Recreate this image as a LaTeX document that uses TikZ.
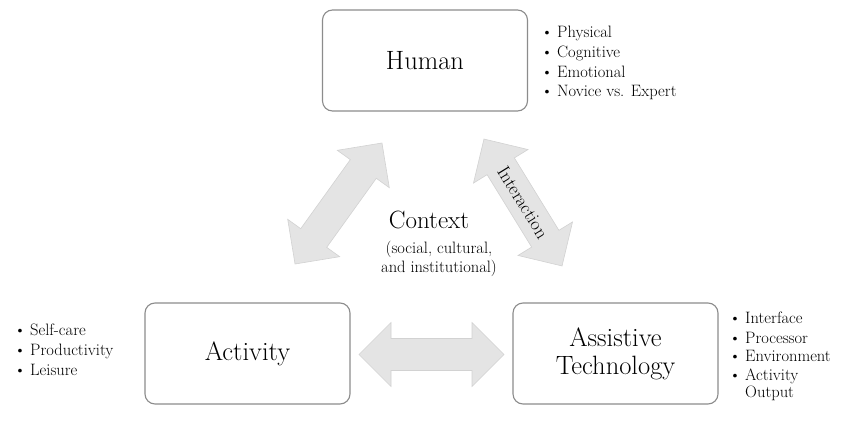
\documentclass[tikz,border=0pt]{standalone}
\definecolor{boxgray}{HTML}{8C8C8C}
\definecolor{arrowfill}{HTML}{E4E4E4}
\definecolor{arrowedge}{HTML}{D2D2D2}
\newcommand\blt[1]{\makebox[16pt][l]{\textbullet}#1}
\begin{document}
\begin{tikzpicture}[x=1pt,y=-1pt,
  box/.style={draw=boxgray, line width=1.1pt, rounded corners=10pt,
    minimum width=205pt, minimum height=101pt, inner sep=0pt,
    font=\fontsize{26.5}{29}\selectfont, align=center},
  bul/.style={anchor=base west, inner sep=0pt, font=\fontsize{16.5}{18}\selectfont},
  blk/.style={fill=arrowfill, draw=arrowedge, line width=0.6pt, line join=miter},
  pics/dblarrow/.style={code={
    \path[blk] ({-#1/2},0) -- ({-#1/2+32},32) -- ({-#1/2+32},16)
      -- ({#1/2-32},16) -- ({#1/2-32},32) -- ({#1/2},0)
      -- ({#1/2-32},-32) -- ({#1/2-32},-16) -- ({-#1/2+32},-16)
      -- ({-#1/2+32},-32) -- cycle;}}
]
\fill[white] (0,0) rectangle (850,422);
\useasboundingbox (0,0) rectangle (850,422);

% boxes
\node[box] (human) at (425,60.5) {Human};
\node[box] (activity) at (247.5,353.5) {Activity};
\node[box] (at) at (615.5,353.5) {Assistive\\[-1pt]Technology};

% block arrows
\coordinate (lcen) at (338.5,203.5);
\coordinate (rcen) at (523,202.5);
\coordinate (hcen) at (431.5,354.5);
\pic[rotate=54.3] at (lcen) {dblarrow=149};
\pic[rotate=-58.4] at (rcen) {dblarrow=149};
\pic at (hcen) {dblarrow=145};
\node[rotate=-58.4, font=\fontsize{18.5}{20}\selectfont, inner sep=0pt] (inter) at (rcen) {Interaction};

% context
\node[font=\fontsize{25}{28}\selectfont, inner sep=0pt] (context) at (429,220) {Context};
\node[font=\fontsize{16.5}{19}\selectfont, inner sep=0pt, align=center] (contextsub) at (439,259) {(social, cultural,\\ and institutional)};

% lists
\node[bul] (h1) at (541,38) {\blt{Physical}};
\node[bul] (h2) at (541,58) {\blt{Cognitive}};
\node[bul] (h3) at (541,78) {\blt{Emotional}};
\node[bul] (h4) at (541,97) {\blt{Novice vs. Expert}};

\node[bul] (a1) at (14,335) {\blt{Self-care}};
\node[bul] (a2) at (14,355) {\blt{Productivity}};
\node[bul] (a3) at (14,375) {\blt{Leisure}};

\node[bul] (t1) at (729,323) {\blt{Interface}};
\node[bul] (t2) at (729,343) {\blt{Processor}};
\node[bul] (t3) at (729,361) {\blt{Environment}};
\node[bul] (t4) at (729,380) {\blt{Activity}};
\node[bul] (t5) at (745,397) {Output};
\end{tikzpicture}
\end{document}
